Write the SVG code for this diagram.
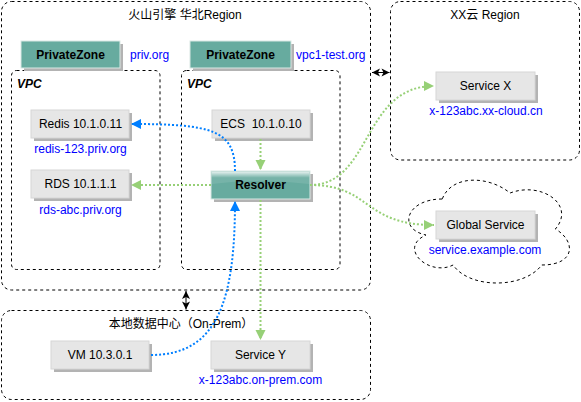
<svg xmlns="http://www.w3.org/2000/svg" width="581" height="402" viewBox="0 0 581 402">
<style>
text{font-family:"Liberation Sans",Arial,"Noto Sans CJK SC",sans-serif;font-size:12px;fill:#000}
.c{text-anchor:middle}
.b{font-weight:bold}
.u{fill:#0000ff}
.cont{fill:none;stroke:#000;stroke-width:1;stroke-dasharray:3 3}
.box{fill:#e6e6e6;stroke:#d6d6d6;stroke-width:1}
.sh{fill:#b3b3b3}
.pz{fill:#67ab9f;stroke:#d9e8e4;stroke-width:1}
.g{fill:none;stroke:#97d077;stroke-width:2;stroke-dasharray:2 2}
.bl{fill:none;stroke:#007fff;stroke-width:2;stroke-dasharray:2 2}
.k{fill:none;stroke:#000;stroke-width:1}
</style>
<defs>
<marker id="ag" markerUnits="userSpaceOnUse" markerWidth="12" markerHeight="12" viewBox="0 0 12 12" refX="11" refY="6" orient="auto"><path d="M1 1 L11 6 L1 11 Z" fill="#97d077"/></marker>
<marker id="ab" markerUnits="userSpaceOnUse" markerWidth="12" markerHeight="12" viewBox="0 0 12 12" refX="11" refY="6" orient="auto"><path d="M1 1 L11 6 L1 11 Z" fill="#007fff"/></marker>
<marker id="ak" markerUnits="userSpaceOnUse" markerWidth="10" markerHeight="10" viewBox="0 0 10 10" refX="9" refY="5" orient="auto"><path d="M1 1 L9 5 L1 9 L3 5 Z" fill="#000"/></marker>
<marker id="aks" markerUnits="userSpaceOnUse" markerWidth="10" markerHeight="10" viewBox="0 0 10 10" refX="1" refY="5" orient="auto"><path d="M9 1 L1 5 L9 9 L7 5 Z" fill="#000"/></marker>
<linearGradient id="glass" x1="0" y1="0" x2="0" y2="1">
<stop offset="0" stop-color="#ffffff" stop-opacity="0.85"/>
<stop offset="0.5" stop-color="#ffffff" stop-opacity="0.1"/>
</linearGradient>
</defs>

<g id="region-huoshan">
<rect class="cont" x="1.5" y="1.5" width="369" height="288.5" rx="10"/>
<text class="c" x="185" y="19">火山引擎 华北Region</text>
</g>
<g id="region-xx">
<rect class="cont" x="390.5" y="1.5" width="189" height="158.5" rx="10"/>
<text class="c" x="485" y="19">XX云 Region</text>
</g>
<g id="region-onprem">
<rect class="cont" x="1.5" y="310.5" width="369" height="89" rx="10"/>
<text class="c" x="181" y="328">本地数据中心（On-Prem）</text>
</g>

<g id="vpc1">
<rect class="cont" x="11.5" y="70.5" width="148.5" height="199" rx="5"/>
<text x="17" y="88" class="b" font-style="italic">VPC</text>
</g>
<g id="vpc2">
<rect class="cont" x="181.5" y="70.5" width="158.5" height="199" rx="5"/>
<text x="187" y="88" class="b" font-style="italic">VPC</text>
</g>

<g id="pz1">
<rect class="sh" x="24" y="44" width="99" height="27"/>
<rect class="pz" x="21" y="41" width="99" height="27"/>
<text class="c b" x="70.5" y="59">PrivateZone</text>
<text class="u" x="130" y="59">priv.org</text>
</g>
<g id="pz2">
<rect class="sh" x="193" y="44" width="101" height="27"/>
<rect class="pz" x="190" y="41" width="101" height="27"/>
<text class="c b" x="240.5" y="59">PrivateZone</text>
<text class="u" x="296" y="59">vpc1-test.org</text>
</g>

<g id="redis">
<rect class="sh" x="34" y="113" width="98" height="28"/>
<rect class="box" x="31" y="110" width="98" height="28"/>
<text class="c" x="80.5" y="128">Redis 10.1.0.11</text>
<text class="c u" x="80.5" y="153">redis-123.priv.org</text>
</g>
<g id="rds">
<rect class="sh" x="34" y="173" width="98" height="28"/>
<rect class="box" x="31" y="170" width="98" height="28"/>
<text class="c" x="80.5" y="188">RDS 10.1.1.1</text>
<text class="c u" x="80.5" y="214">rds-abc.priv.org</text>
</g>
<g id="ecs">
<rect class="sh" x="215" y="113" width="98" height="28"/>
<rect class="box" x="212" y="110" width="98" height="28"/>
<text class="c" x="261" y="128" xml:space="preserve">ECS  10.1.0.10</text>
</g>
<g id="resolver">
<rect class="sh" x="214" y="174" width="99" height="28"/>
<rect x="211" y="171" width="99" height="28" fill="#67ab9f" stroke="#d9e8e4"/>
<path d="M211.5 171.5 H309.5 V184 Q260.5 178 211.5 184 Z" fill="url(#glass)"/>
<text class="c b" x="260.5" y="189">Resolver</text>
</g>
<g id="service-x">
<rect class="sh" x="439" y="75" width="99" height="28"/>
<rect class="box" x="436" y="72" width="99" height="28"/>
<text class="c" x="485.5" y="90">Service X</text>
<text class="c u" x="486" y="115">x-123abc.xx-cloud.cn</text>
</g>
<g id="global-cloud">
<path class="cont" d="M442.25 199 C406.05 199 397 229 425.96 235 C397 248.2 429.58 277 453.11 265 C469.4 289 523.7 289 541.8 265 C576 265 576 241 555.4 229 C576 205 541.8 181 510.1 193 C487.5 175 451.3 175 442.25 199 Z"/>
</g>
<g id="global-service">
<rect class="sh" x="439" y="214" width="99" height="28"/>
<rect class="box" x="436" y="211" width="99" height="28"/>
<text class="c" x="485.5" y="229">Global Service</text>
<text class="c u" x="485" y="254">service.example.com</text>
</g>
<g id="vm">
<rect class="sh" x="54" y="344" width="98" height="28"/>
<rect class="box" x="51" y="341" width="98" height="28"/>
<text class="c" x="100" y="359">VM 10.3.0.1</text>
</g>
<g id="service-y">
<rect class="sh" x="214" y="344" width="99" height="28"/>
<rect class="box" x="211" y="341" width="99" height="28"/>
<text class="c" x="260.5" y="359">Service Y</text>
<text class="c u" x="260.5" y="384">x-123abc.on-prem.com</text>
</g>

<g id="connectors">
<path class="g" d="M260.5 139 V170" marker-end="url(#ag)"/>
<path class="g" d="M211 185 H131" marker-end="url(#ag)"/>
<path class="g" d="M260.5 200 V340" marker-end="url(#ag)"/>
<path class="g" d="M310 185 C372 185 362 86 434 86" marker-end="url(#ag)"/>
<path class="g" d="M310 185 C372 185 362 225 434 225" marker-end="url(#ag)"/>
<path class="bl" d="M235 171 C235 130 212 124 131 124" marker-end="url(#ab)"/>
<path class="bl" d="M151 355 C218 355 235 300 235 201" marker-end="url(#ab)"/>
<path class="k" d="M372 72.5 H389.5" marker-start="url(#aks)" marker-end="url(#ak)"/>
<path class="k" d="M186 291 V309.5" marker-start="url(#aks)" marker-end="url(#ak)"/>
</g>
</svg>
